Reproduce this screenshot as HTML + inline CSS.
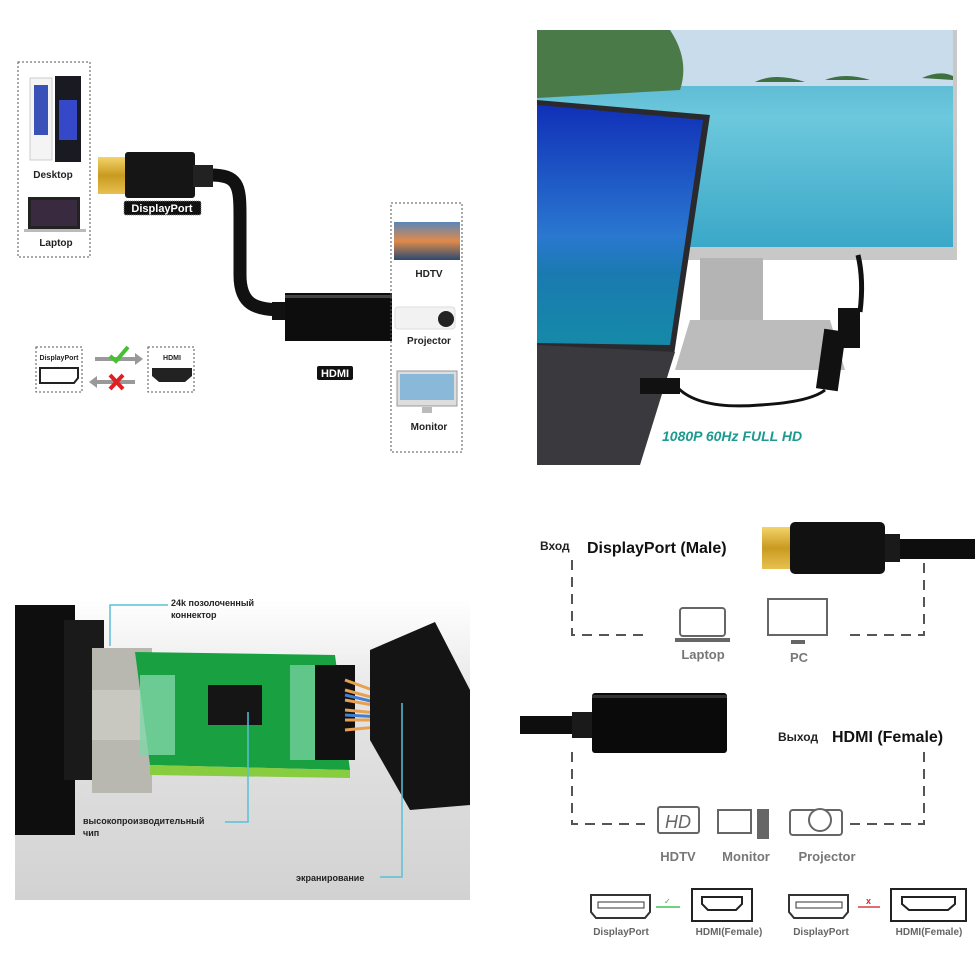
<!DOCTYPE html>
<html><head><meta charset="utf-8"><style>
html,body{margin:0;padding:0;background:#fff;}
svg{display:block;font-family:"Liberation Sans","DejaVu Sans",sans-serif;}
</style></head><body>
<svg width="980" height="980" viewBox="0 0 980 980" xmlns="http://www.w3.org/2000/svg">
<defs>
<linearGradient id="gold" x1="0" y1="0" x2="0" y2="1"><stop offset="0" stop-color="#f3d46a"/><stop offset="0.5" stop-color="#c99a20"/><stop offset="1" stop-color="#e8c050"/></linearGradient>
<linearGradient id="sea" x1="0" y1="0" x2="0" y2="1"><stop offset="0" stop-color="#4aa8c8"/><stop offset="0.4" stop-color="#6cc8dc"/><stop offset="1" stop-color="#3aa8c8"/></linearGradient>
<linearGradient id="lsea" x1="0" y1="0" x2="0" y2="1"><stop offset="0" stop-color="#1030b8"/><stop offset="0.55" stop-color="#2a78d0"/><stop offset="0.7" stop-color="#1a7ab0"/><stop offset="1" stop-color="#158aa8"/></linearGradient>
<linearGradient id="floor" x1="0" y1="0" x2="0" y2="1"><stop offset="0" stop-color="#ffffff"/><stop offset="0.35" stop-color="#e4e4e4"/><stop offset="1" stop-color="#d2d2d2"/></linearGradient>
<linearGradient id="tv" x1="0" y1="0" x2="0" y2="1"><stop offset="0" stop-color="#5a86b8"/><stop offset="0.5" stop-color="#e08a4a"/><stop offset="1" stop-color="#2a4a70"/></linearGradient>
</defs>

<!-- ===== TOP LEFT ===== -->
<rect x="18" y="62" width="72" height="195" fill="none" stroke="#555" stroke-dasharray="2,2"/>
<rect x="30" y="78" width="22" height="82" fill="#f4f4f4" stroke="#ccc"/>
<rect x="34" y="85" width="14" height="50" fill="#3a52b8"/>
<rect x="55" y="76" width="26" height="86" fill="#1a1a22"/>
<rect x="59" y="100" width="18" height="40" fill="#3448c8"/>
<text x="53" y="178" font-size="10" font-weight="bold" text-anchor="middle" fill="#222">Desktop</text>
<rect x="28" y="197" width="52" height="32" fill="#222"/>
<rect x="31" y="200" width="46" height="26" fill="#3a2a40"/>
<rect x="24" y="229" width="62" height="3" fill="#bbb"/>
<text x="56" y="246" font-size="10" font-weight="bold" text-anchor="middle" fill="#222">Laptop</text>

<path d="M210,175 C238,175 240,185 240,215 L240,275 C240,305 255,310 285,310" fill="none" stroke="#111" stroke-width="13"/>
<rect x="98" y="157" width="28" height="37" fill="url(#gold)"/>
<rect x="125" y="152" width="70" height="46" rx="3" fill="#151515"/>
<rect x="193" y="165" width="20" height="22" fill="#222"/>
<rect x="124" y="201" width="77" height="14" rx="2" fill="#111" stroke="#888" stroke-dasharray="1,1"/>
<text x="162" y="212" font-size="11" text-anchor="middle" fill="#fff" font-weight="bold">DisplayPort</text>

<rect x="272" y="302" width="14" height="18" fill="#111"/>
<rect x="285" y="293" width="107" height="48" fill="#0d0d0d"/>
<rect x="285" y="295" width="107" height="3" fill="#444"/>
<rect x="317" y="366" width="36" height="14" rx="2" fill="#111"/>
<text x="335" y="377" font-size="11" text-anchor="middle" fill="#fff" font-weight="bold">HDMI</text>

<rect x="391" y="203" width="71" height="249" fill="none" stroke="#555" stroke-dasharray="2,2"/>
<rect x="394" y="222" width="66" height="38" fill="url(#tv)"/>
<text x="429" y="277" font-size="10" font-weight="bold" text-anchor="middle" fill="#222">HDTV</text>
<rect x="395" y="307" width="60" height="22" rx="3" fill="#f2f2f2" stroke="#ddd"/>
<circle cx="446" cy="319" r="8" fill="#222"/>
<text x="429" y="344" font-size="10" font-weight="bold" text-anchor="middle" fill="#222">Projector</text>
<rect x="397" y="371" width="60" height="35" fill="#ddd" stroke="#999"/>
<rect x="400" y="374" width="54" height="26" fill="#8ab8d8"/>
<rect x="422" y="407" width="10" height="6" fill="#bbb"/>
<text x="429" y="430" font-size="10" font-weight="bold" text-anchor="middle" fill="#222">Monitor</text>

<rect x="36" y="347" width="46" height="45" fill="none" stroke="#555" stroke-dasharray="2,2"/>
<text x="59" y="360" font-size="7" font-weight="bold" text-anchor="middle" fill="#222">DisplayPort</text>
<path d="M40,368 L78,368 L78,378 L74,383 L40,383 Z" fill="none" stroke="#222" stroke-width="2"/>
<path d="M95,359 L135,359" stroke="#999" stroke-width="4"/><path d="M135,353 L143,359 L135,365 Z" fill="#999"/>
<path d="M110,356 L116,361 L128,347" stroke="#44c030" stroke-width="4" fill="none"/>
<path d="M97,382 L135,382" stroke="#999" stroke-width="4"/><path d="M97,376 L89,382 L97,388 Z" fill="#999"/>
<path d="M110,375 L123,389 M123,375 L110,389" stroke="#e02020" stroke-width="4"/>
<rect x="148" y="347" width="46" height="45" fill="none" stroke="#555" stroke-dasharray="2,2"/>
<text x="172" y="360" font-size="7" font-weight="bold" text-anchor="middle" fill="#222">HDMI</text>
<path d="M152,368 L192,368 L192,376 L185,382 L159,382 L152,376 Z" fill="#222"/>

<!-- ===== TOP RIGHT PHOTO ===== -->
<rect x="537" y="30" width="420" height="230" fill="#c8c8c8"/>
<rect x="537" y="30" width="416" height="217" fill="url(#sea)"/>
<rect x="537" y="30" width="416" height="56" fill="#c8dcec"/>
<path d="M537,30 L670,30 Q690,60 680,90 L537,98 Z" fill="#4a7a48"/>
<path d="M755,82 Q775,72 805,82 Z M825,80 Q845,72 870,80 Z M922,78 Q940,70 953,76 L953,80 Z" fill="#3f7040"/>
<rect x="700" y="258" width="63" height="75" fill="#b4b4b4"/>
<path d="M690,320 L830,320 L845,370 L675,370 Z" fill="#bcbcbc"/>
<path d="M537,100 L710,115 L674,355 L537,352 Z" fill="#2a2a2e"/>
<path d="M537,105 L703,120 L670,345 L537,343 Z" fill="url(#lsea)"/>
<path d="M537,345 L675,352 L640,465 L537,465 Z" fill="#3a3a3e"/>
<path d="M858,255 Q864,280 860,312" stroke="#111" stroke-width="5" fill="none"/>
<rect x="838" y="308" width="22" height="40" fill="#111"/>
<rect x="820" y="330" width="22" height="60" fill="#111" transform="rotate(8 831 360)"/>
<rect x="640" y="378" width="40" height="16" fill="#111"/>
<path d="M678,388 Q700,410 760,405 Q810,402 825,390" stroke="#111" stroke-width="3" fill="none"/>
<text x="662" y="441" font-size="14" font-weight="bold" font-style="italic" fill="#1d9a8e">1080P 60Hz FULL HD</text>

<!-- ===== BOTTOM LEFT ===== -->
<rect x="15" y="600" width="455" height="300" fill="url(#floor)"/>
<rect x="15" y="605" width="60" height="230" fill="#0e0e0e"/>
<rect x="64" y="620" width="40" height="160" fill="#1a1a1a"/>
<rect x="92" y="648" width="60" height="145" fill="#b8b8b0"/>
<rect x="92" y="690" width="60" height="50" fill="#c8c8c0"/>
<path d="M135,652 L335,655 L350,770 L150,765 Z" fill="#19a040"/>
<path d="M150,765 L350,770 L350,778 L150,775 Z" fill="#88cc40"/>
<rect x="140" y="675" width="35" height="80" fill="#7fd6a8" opacity="0.8"/>
<rect x="208" y="685" width="54" height="40" fill="#151515"/>
<rect x="290" y="665" width="30" height="95" fill="#7fd6a8" opacity="0.7"/>
<rect x="315" y="665" width="40" height="95" fill="#111"/>
<path d="M345,680 L400,700 M345,690 L400,705 M345,700 L400,710 M345,710 L400,715 M345,720 L400,720 M345,730 L400,725" stroke="#e8a050" stroke-width="3"/>
<path d="M345,695 L400,708 M345,715 L400,718" stroke="#4080d0" stroke-width="3"/>
<path d="M370,650 L435,622 L470,690 L470,805 L410,810 L370,740 Z" fill="#141414"/>
<path d="M110,646 L110,605 L168,605" stroke="#5ac0d8" stroke-width="1.5" fill="none"/>
<text x="171" y="606" font-size="9" font-weight="bold" fill="#222">24k позолоченный</text>
<text x="171" y="618" font-size="9" font-weight="bold" fill="#222">коннектор</text>
<path d="M248,712 L248,822 L225,822" stroke="#5ac0d8" stroke-width="1.5" fill="none"/>
<text x="83" y="824" font-size="9" font-weight="bold" fill="#222">высокопроизводительный</text>
<text x="83" y="836" font-size="9" font-weight="bold" fill="#222">чип</text>
<path d="M402,703 L402,877 L380,877" stroke="#5ac0d8" stroke-width="1.5" fill="none"/>
<text x="296" y="881" font-size="9" font-weight="bold" fill="#222">экранирование</text>

<!-- ===== BOTTOM RIGHT ===== -->
<text x="540" y="550" font-size="12" font-weight="bold" fill="#222">Вход</text>
<text x="587" y="553" font-size="16" font-weight="bold" fill="#111">DisplayPort (Male)</text>
<rect x="885" y="539" width="90" height="20" fill="#0e0e0e"/>
<rect x="880" y="534" width="20" height="28" fill="#1a1a1a"/>
<rect x="762" y="527" width="30" height="42" fill="url(#gold)"/>
<rect x="790" y="522" width="95" height="52" rx="5" fill="#111"/>
<path d="M572,560 L572,635 L650,635 M850,635 L924,635 L924,560" fill="none" stroke="#555" stroke-width="2" stroke-dasharray="10,7"/>
<rect x="680" y="608" width="45" height="28" rx="3" fill="none" stroke="#666" stroke-width="2"/>
<rect x="675" y="638" width="55" height="4" fill="#666"/>
<text x="703" y="659" font-size="13" font-weight="bold" text-anchor="middle" fill="#777">Laptop</text>
<rect x="768" y="599" width="59" height="36" fill="none" stroke="#666" stroke-width="2"/>
<rect x="791" y="640" width="14" height="4" fill="#666"/>
<text x="799" y="662" font-size="13" font-weight="bold" text-anchor="middle" fill="#777">PC</text>

<rect x="520" y="716" width="60" height="18" fill="#0e0e0e"/>
<rect x="572" y="712" width="22" height="26" fill="#1a1a1a"/>
<rect x="592" y="693" width="135" height="60" rx="3" fill="#0a0a0a"/>
<rect x="592" y="695" width="135" height="3" fill="#333"/>
<text x="778" y="741" font-size="12" font-weight="bold" fill="#222">Выход</text>
<text x="832" y="742" font-size="16" font-weight="bold" fill="#111">HDMI (Female)</text>
<path d="M572,752 L572,824 L645,824 M850,824 L924,824 L924,750" fill="none" stroke="#555" stroke-width="2" stroke-dasharray="10,7"/>
<rect x="658" y="807" width="41" height="26" rx="2" fill="none" stroke="#666" stroke-width="2"/>
<text x="678" y="828" font-size="18" font-style="italic" text-anchor="middle" fill="#666">HD</text>
<rect x="718" y="810" width="33" height="23" fill="none" stroke="#666" stroke-width="2"/>
<rect x="757" y="809" width="12" height="30" fill="#666"/>
<rect x="790" y="810" width="52" height="25" rx="3" fill="none" stroke="#666" stroke-width="2"/>
<circle cx="820" cy="820" r="11" fill="#fff" stroke="#666" stroke-width="2"/>
<text x="678" y="861" font-size="13" font-weight="bold" text-anchor="middle" fill="#777">HDTV</text>
<text x="746" y="861" font-size="13" font-weight="bold" text-anchor="middle" fill="#777">Monitor</text>
<text x="827" y="861" font-size="13" font-weight="bold" text-anchor="middle" fill="#777">Projector</text>

<path d="M591,895 L650,895 L650,912 L645,918 L596,918 L591,912 Z" fill="none" stroke="#333" stroke-width="2"/>
<rect x="598" y="902" width="46" height="6" fill="none" stroke="#333"/>
<path d="M656,907 L680,907" stroke="#6fd080" stroke-width="2"/><text x="664" y="904" font-size="8" fill="#3a3">✓</text>
<rect x="692" y="889" width="60" height="32" fill="none" stroke="#222" stroke-width="2"/>
<path d="M702,897 L742,897 L742,904 L736,910 L708,910 L702,904 Z" fill="none" stroke="#222" stroke-width="2"/>
<text x="621" y="935" font-size="10" font-weight="bold" text-anchor="middle" fill="#666">DisplayPort</text>
<text x="729" y="935" font-size="10" font-weight="bold" text-anchor="middle" fill="#666">HDMI(Female)</text>
<path d="M789,895 L848,895 L848,912 L843,918 L794,918 L789,912 Z" fill="none" stroke="#333" stroke-width="2"/>
<rect x="796" y="902" width="46" height="6" fill="none" stroke="#333"/>
<path d="M858,907 L880,907" stroke="#e07070" stroke-width="2"/><text x="866" y="904" font-size="9" font-weight="bold" fill="#d22">x</text>
<rect x="891" y="889" width="75" height="32" fill="none" stroke="#222" stroke-width="2"/>
<path d="M902,897 L955,897 L955,904 L948,910 L909,910 L902,904 Z" fill="none" stroke="#222" stroke-width="2"/>
<text x="821" y="935" font-size="10" font-weight="bold" text-anchor="middle" fill="#666">DisplayPort</text>
<text x="929" y="935" font-size="10" font-weight="bold" text-anchor="middle" fill="#666">HDMI(Female)</text>
</svg>
</body></html>
